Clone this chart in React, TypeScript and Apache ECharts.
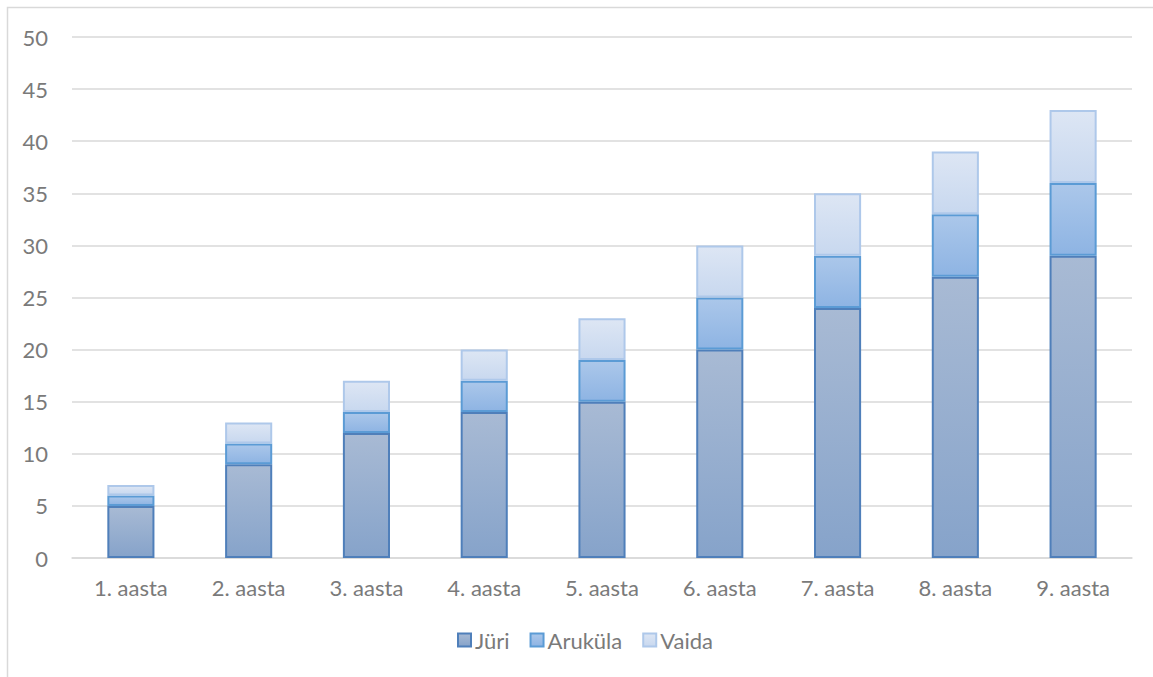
import React, { useEffect, useRef } from "react";
import * as echarts from "echarts";

const categories = ["1. aasta", "2. aasta", "3. aasta", "4. aasta", "5. aasta", "6. aasta", "7. aasta", "8. aasta", "9. aasta"];
const juri = [5, 9, 12, 14, 15, 20, 24, 27, 29];
const arukula = [1, 2, 2, 3, 4, 5, 5, 6, 7];
const vaida = [1, 2, 3, 3, 4, 5, 6, 6, 7];
const yTicks = { min: 0, max: 50, interval: 5 };

const FONT = "Lato, 'Open Sans', sans-serif";
const TEXT = "#7a7a7a";
const FONT_SIZE = 22;

const grad = (top: string, bottom: string) =>
  new echarts.graphic.LinearGradient(0, 0, 0, 1, [
    { offset: 0, color: top },
    { offset: 1, color: bottom },
  ]);

export default function App() {
  const ref = useRef<HTMLDivElement>(null);

  useEffect(() => {
    if (!ref.current) return;
    const chart = echarts.init(ref.current, null, { renderer: "svg" });

    const seriesDefs = [
      { name: "Jüri", data: juri, top: "#a8bad4", bottom: "#86a3ca", border: "#4f7fba" },
      { name: "Aruküla", data: arukula, top: "#abc7ea", bottom: "#8eb4e3", border: "#5b9bd5" },
      { name: "Vaida", data: vaida, top: "#dde6f4", bottom: "#c8d8ef", border: "#aec8ea" },
    ];

    chart.setOption({
      animation: false,
      backgroundColor: "#ffffff",
      grid: { left: 72, right: 21, top: 37, bottom: 119, containLabel: false },
      graphic: [
        {
          type: "polyline",
          shape: { points: [[7.5, 677], [7.5, 7.5], [1153, 7.5]] },
          style: { stroke: "#d9d9d9", lineWidth: 1.5, fill: "none" },
          silent: true,
        },
      ],
      legend: {
        top: 624,
        left: 452,
        itemWidth: 13,
        itemHeight: 13,
        itemGap: 20,
        icon: "rect",
        textStyle: { color: TEXT, fontSize: FONT_SIZE, fontFamily: FONT, padding: [0, 0, 0, -1] },
        data: seriesDefs.map((s) => s.name),
      },
      xAxis: {
        type: "category",
        data: categories,
        axisLine: { show: true, lineStyle: { color: "#d9d9d9", width: 1.5 } },
        axisTick: { show: false },
        axisLabel: { color: TEXT, fontSize: FONT_SIZE, fontFamily: FONT, margin: 18 },
      },
      yAxis: {
        type: "value",
        min: yTicks.min,
        max: yTicks.max,
        interval: yTicks.interval,
        axisLine: { show: false },
        axisTick: { show: false },
        axisLabel: { color: TEXT, fontSize: FONT_SIZE, fontFamily: FONT, margin: 24 },
        splitLine: { lineStyle: { color: "#d9d9d9", width: 1.5 } },
      },
      series: seriesDefs.map((s) => ({
        name: s.name,
        type: "bar",
        stack: "total",
        barWidth: "40%",
        data: s.data,
        itemStyle: {
          color: grad(s.top, s.bottom),
          borderColor: s.border,
          borderWidth: 2,
        },
      })),
    });

    return () => chart.dispose();
  }, []);

  return (
    <div
      ref={ref}
      style={{ position: "fixed", left: 0, top: 0, width: 1153, height: 677 }}
    />
  );
}
